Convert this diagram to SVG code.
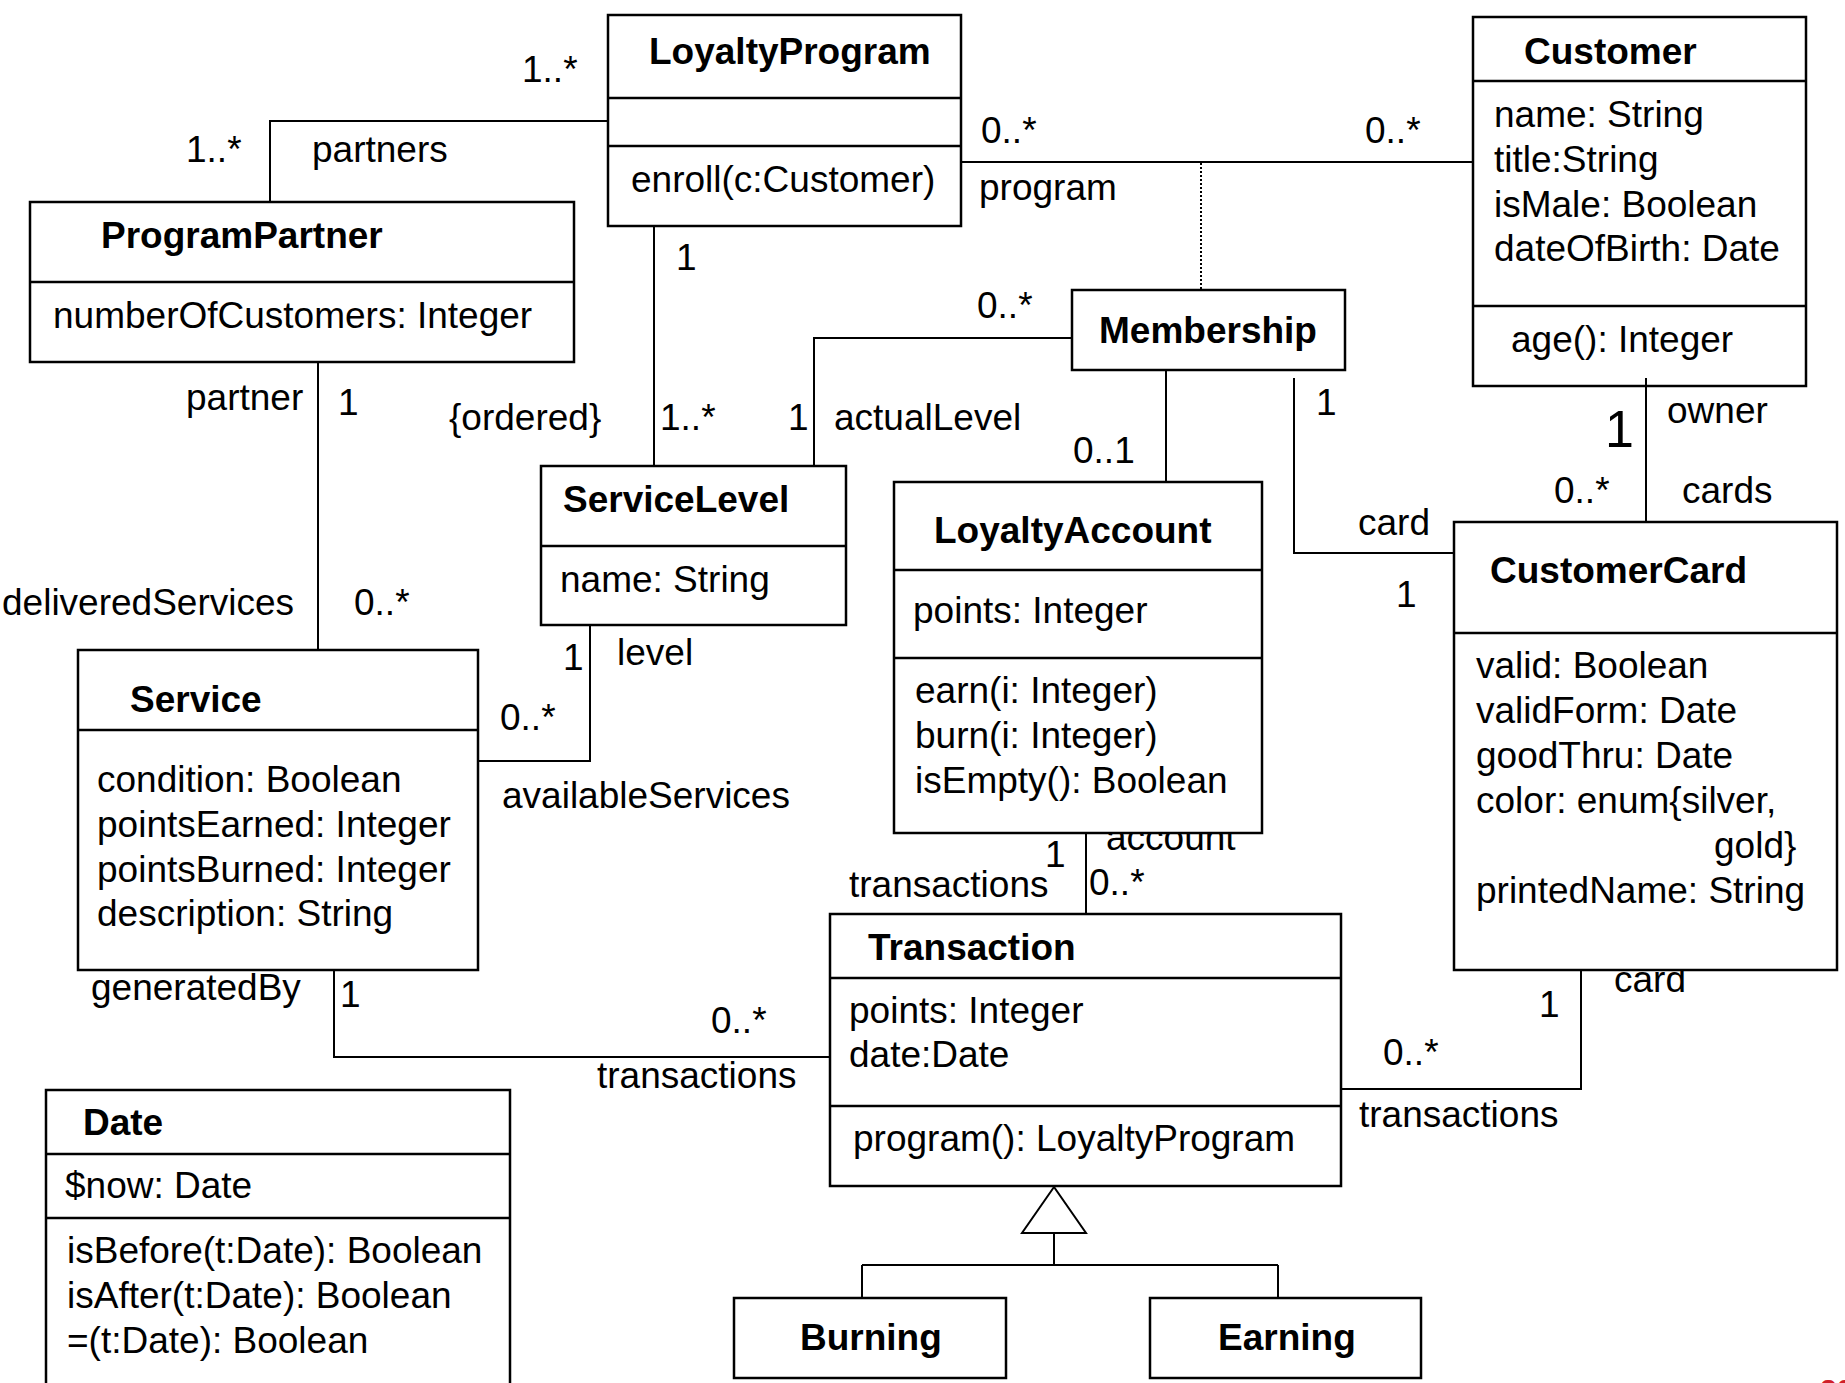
<svg xmlns="http://www.w3.org/2000/svg" width="1845" height="1383" viewBox="0 0 1845 1383">
<style>
text{font-family:"Liberation Sans",Arial,sans-serif;font-size:37px;fill:#000}
.t{font-weight:bold}
.box{fill:#fff;stroke:#000;stroke-width:2.5}
.div{stroke:#000;stroke-width:2.5}
.c{fill:none;stroke:#000;stroke-width:2}
.dot{fill:none;stroke:#000;stroke-width:2;stroke-dasharray:2 2}
.big{font-size:52px}
.red{fill:#d0202a;font-weight:bold;font-size:30px}
</style>
<rect width="1845" height="1383" fill="#fff"/>
<g id="connectors">
<path class="c" d="M608,121 H270 V202"/>
<path class="c" d="M961,162 H1473"/>
<path class="dot" d="M1201,163 V290"/>
<path class="c" d="M654,226 V466"/>
<path class="c" d="M1072,338 H814 V466"/>
<path class="c" d="M1166,370 V482"/>
<path class="c" d="M1294,378 V553 H1454"/>
<path class="c" d="M1646,378 V522"/>
<path class="c" d="M318,362 V650"/>
<path class="c" d="M590,625 V761 H478"/>
<path class="c" d="M1086,833 V914"/>
<path class="c" d="M334,962 V1057 H830"/>
<path class="c" d="M1581,962 V1089 H1341"/>
<polygon class="c" points="1054,1187 1022,1233 1086,1233" fill="#fff"/>
<path class="c" d="M1054,1233 V1265 M862,1265 H1278 M862,1265 V1298 M1278,1265 V1298"/>
</g>
<g id="labels">
<text x="522" y="82">1..*</text>
<text x="186" y="162">1..*</text>
<text x="312" y="162">partners</text>
<text x="981" y="143">0..*</text>
<text x="1365" y="143">0..*</text>
<text x="979" y="200">program</text>
<text x="676" y="270">1</text>
<text x="977" y="318">0..*</text>
<text x="186" y="410">partner</text>
<text x="338" y="415">1</text>
<text x="449" y="430">{ordered}</text>
<text x="660" y="430">1..*</text>
<text x="788" y="430">1</text>
<text x="834" y="430">actualLevel</text>
<text x="1073" y="463">0..1</text>
<text x="1316" y="415">1</text>
<text class="big" x="1605" y="447">1</text>
<text x="1667" y="423">owner</text>
<text x="1554" y="503">0..*</text>
<text x="1682" y="503">cards</text>
<text x="1358" y="535">card</text>
<text x="1396" y="607">1</text>
<text x="2" y="615">deliveredServices</text>
<text x="354" y="615">0..*</text>
<text x="563" y="670">1</text>
<text x="617" y="665">level</text>
<text x="500" y="730">0..*</text>
<text x="502" y="808">availableServices</text>
<text x="1045" y="867">1</text>
<text x="1106" y="850">account</text>
<text x="849" y="897">transactions</text>
<text x="1089" y="895">0..*</text>
<text x="91" y="1000">generatedBy</text>
<text x="340" y="1007">1</text>
<text x="711" y="1033">0..*</text>
<text x="597" y="1088">transactions</text>
<text x="1383" y="1065">0..*</text>
<text x="1359" y="1127">transactions</text>
<text x="1539" y="1017">1</text>
<text x="1614" y="992">card</text>
</g>
<g id="LoyaltyProgram">
<rect class="box" x="608" y="15" width="353" height="211"/>
<path class="div" d="M608,98 H961 M608,146 H961"/>
<text class="t" x="649" y="64">LoyaltyProgram</text>
<text x="631" y="192">enroll(c:Customer)</text>
</g>
<g id="ProgramPartner">
<rect class="box" x="30" y="202" width="544" height="160"/>
<path class="div" d="M30,282 H574"/>
<text class="t" x="101" y="248">ProgramPartner</text>
<text x="53" y="328">numberOfCustomers: Integer</text>
</g>
<g id="Customer">
<rect class="box" x="1473" y="17" width="333" height="369"/>
<path class="div" d="M1473,81 H1806 M1473,306 H1806"/>
<text class="t" x="1524" y="64">Customer</text>
<text x="1494" y="127">name: String</text>
<text x="1494" y="172">title:String</text>
<text x="1494" y="217">isMale: Boolean</text>
<text x="1494" y="261">dateOfBirth: Date</text>
<text x="1511" y="352">age(): Integer</text>
</g>
<path class="c" d="M1646,378 V386"/>
<g id="Membership">
<rect class="box" x="1072" y="290" width="273" height="80"/>
<text class="t" x="1099" y="343">Membership</text>
</g>
<g id="ServiceLevel">
<rect class="box" x="541" y="466" width="305" height="159"/>
<path class="div" d="M541,546 H846"/>
<text class="t" x="563" y="512">ServiceLevel</text>
<text x="560" y="592">name: String</text>
</g>
<g id="LoyaltyAccount">
<rect class="box" x="894" y="482" width="368" height="351"/>
<path class="div" d="M894,570 H1262 M894,658 H1262"/>
<text class="t" x="934" y="543">LoyaltyAccount</text>
<text x="913" y="623">points: Integer</text>
<text x="915" y="703">earn(i: Integer)</text>
<text x="915" y="748">burn(i: Integer)</text>
<text x="915" y="793">isEmpty(): Boolean</text>
</g>
<g id="CustomerCard">
<rect class="box" x="1454" y="522" width="383" height="448"/>
<path class="div" d="M1454,633 H1837"/>
<text class="t" x="1490" y="583">CustomerCard</text>
<text x="1476" y="678">valid: Boolean</text>
<text x="1476" y="723">validForm: Date</text>
<text x="1476" y="768">goodThru: Date</text>
<text x="1476" y="813">color: enum{silver,</text>
<text x="1714" y="858">gold}</text>
<text x="1476" y="903">printedName: String</text>
</g>
<g id="Service">
<rect class="box" x="78" y="650" width="400" height="320"/>
<path class="div" d="M78,730 H478"/>
<text class="t" x="130" y="712">Service</text>
<text x="97" y="792">condition: Boolean</text>
<text x="97" y="837">pointsEarned: Integer</text>
<text x="97" y="882">pointsBurned: Integer</text>
<text x="97" y="926">description: String</text>
</g>
<g id="Transaction">
<rect class="box" x="830" y="914" width="511" height="272"/>
<path class="div" d="M830,978 H1341 M830,1106 H1341"/>
<text class="t" x="868" y="960">Transaction</text>
<text x="849" y="1023">points: Integer</text>
<text x="849" y="1067">date:Date</text>
<text x="853" y="1151">program(): LoyaltyProgram</text>
</g>
<g id="Date">
<rect class="box" x="46" y="1090" width="464" height="320"/>
<path class="div" d="M46,1154 H510 M46,1218 H510"/>
<text class="t" x="83" y="1135">Date</text>
<text x="65" y="1198">$now: Date</text>
<text x="67" y="1263">isBefore(t:Date): Boolean</text>
<text x="67" y="1308">isAfter(t:Date): Boolean</text>
<text x="67" y="1353">=(t:Date): Boolean</text>
</g>
<g id="Burning">
<rect class="box" x="734" y="1298" width="272" height="80"/>
<text class="t" x="800" y="1350">Burning</text>
</g>
<g id="Earning">
<rect class="box" x="1150" y="1298" width="271" height="80"/>
<text class="t" x="1218" y="1350">Earning</text>
</g>
<text class="red" x="1820" y="1400">20</text>
</svg>
